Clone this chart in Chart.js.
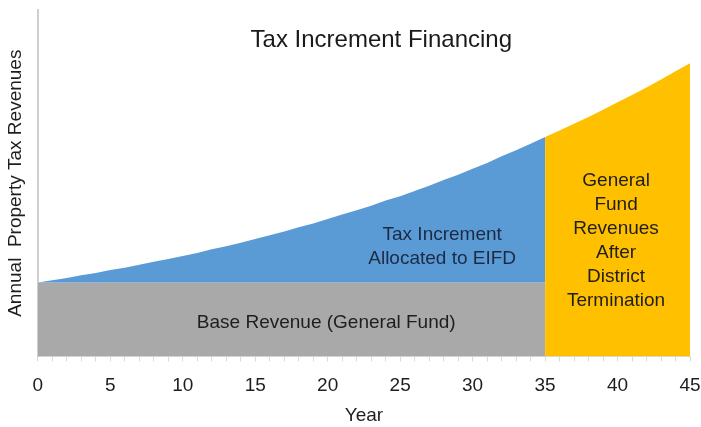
<!DOCTYPE html>
<html>
<head>
<meta charset="utf-8">
<script src="https://cdn.jsdelivr.net/npm/chart.js@4"></script>
<style>
  html,body{margin:0;padding:0;background:#fff;}
  #wrap{width:701px;height:427px;}
</style>
</head>
<body>
<div id="wrap"><canvas id="grafico" width="701" height="427"></canvas></div>
<script>
// years and the revenue curve (base = 100)
var anios = [0,1,2,3,4,5,6,7,8,9,10,11,12,13,14,15,16,17,18,19,20,21,22,23,24,25,26,27,28,29,30,31,32,33,34,35,36,37,38,39,40,41,42,43,44,45];
var totalIngresos = [100,103,106,110,113,117,120,124,128,132,136,140,145,149,154,159,164,169,175,180,186,192,198,204,211,217,224,231,239,246,254,262,271,279,288,297,306,315,324,334,344,354,364,375,386,397];
var baseIngresos = 100;
var finDistrito = 35;
var xTicks = [0,5,10,15,20,25,30,35,40,45];

var titulo = "Tax Increment Financing";
var textoBase = "Base Revenue (General Fund)";
var textoIncremento = ["Tax Increment","Allocated to EIFD"];
var textoFondo = ["General","Fund","Revenues","After","District","Termination"];

var colorBase = "#A9A9A9";
var colorIncremento = "#5B9BD5";
var colorFondo = "#FFC000";

var puntosBase = [], puntosIncremento = [], puntosFondo = [];
for (let i = 0; i < anios.length; i++) {
    if (anios[i] <= finDistrito) {
        puntosBase.push({x: anios[i], y: baseIngresos});
        puntosIncremento.push({x: anios[i], y: totalIngresos[i]});
    }
    if (anios[i] >= finDistrito) {
        puntosFondo.push({x: anios[i], y: totalIngresos[i]});
    }
}

var fuente = "'Liberation Sans', Arial, sans-serif";

var textos = {
    id: "textos",
    afterDatasetsDraw: function(chart){
        let ctx = chart.ctx;
        let sx = chart.scales.x, sy = chart.scales.y;
        ctx.save();
        ctx.textAlign = "center";
        ctx.textBaseline = "middle";
        ctx.fillStyle = "#1a1a1a";
        ctx.font = "24px " + fuente;
        ctx.fillText(titulo, sx.getPixelForValue(23.7), sy.getPixelForValue(428));

        ctx.font = "19px " + fuente;
        ctx.fillStyle = "#1e1e1e";
        ctx.fillText(textoBase, sx.getPixelForValue(19.9), sy.getPixelForValue(46));

        ctx.fillStyle = "#1c2a44";
        let yi = sy.getPixelForValue(165);
        textoIncremento.forEach(function(t, k){
            ctx.fillText(t, sx.getPixelForValue(27.9), yi + k*24);
        });

        ctx.fillStyle = "#1e1e1e";
        let yf = sy.getPixelForValue(238);
        textoFondo.forEach(function(t, k){
            ctx.fillText(t, sx.getPixelForValue(39.9), yf + k*24);
        });
        ctx.restore();
    }
};

var ctx = document.getElementById("grafico").getContext("2d");
var chart = new Chart(ctx, {
    type: "line",
    data: {
        datasets: [
            {label: "Base", data: puntosBase, backgroundColor: colorBase, borderWidth: 0, pointRadius: 0, fill: "origin", order: 3},
            {label: "Incremento", data: puntosIncremento, backgroundColor: colorIncremento, borderWidth: 0, pointRadius: 0, fill: "-1", order: 2},
            {label: "Fondo", data: puntosFondo, backgroundColor: colorFondo, borderWidth: 0, pointRadius: 0, fill: "origin", order: 1}
        ]
    },
    plugins: [textos],
    options: {
        responsive: false,
        animation: false,
        layout: {padding: {top: 10, right: 0, left: 4, bottom: 0}},
        plugins: {legend: {display: false}, tooltip: {enabled: false}},
        scales: {
            x: {
                type: "linear", min: 0, max: 45,
                afterBuildTicks: function(ax){ ax.ticks = anios.map(function(v){ return {value: v}; }); },
                afterFit: function(ax){ ax.paddingRight = 11; },
                ticks: {
                    autoSkip: false, maxRotation: 0, padding: 13,
                    color: "#1e1e1e", font: {size: 19, family: fuente},
                    callback: function(v){ return xTicks.indexOf(v) >= 0 ? String(v) : ""; }
                },
                grid: {drawOnChartArea: false, drawTicks: true, tickLength: 5, color: "#d9d9d9"},
                border: {display: true, color: "#d9d9d9"},
                title: {display: true, text: "Year", color: "#1e1e1e", font: {size: 19, family: fuente}, padding: {top: -6, bottom: 0}}
            },
            y: {
                min: 0, max: 469,
                ticks: {display: false},
                grid: {display: false},
                border: {display: true, color: "#cfcfcf", width: 2},
                title: {display: true, text: "Annual  Property Tax Revenues", color: "#1e1e1e", font: {size: 19, family: fuente}, padding: {top: 0, bottom: 3}}
            }
        }
    }
});
</script>
</body>
</html>
